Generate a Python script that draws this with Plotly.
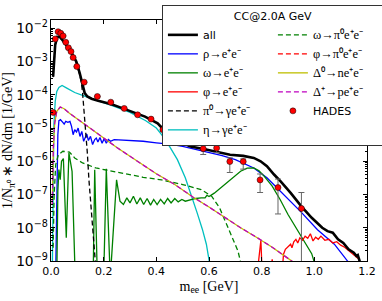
import plotly.graph_objects as go

# ---------------- data ----------------
all_m = [0.008, 0.016, 0.024, 0.033, 0.046, 0.058, 0.071, 0.084, 0.096, 0.109, 0.115, 0.122, 0.128,
         0.138, 0.154, 0.179, 0.204, 0.230, 0.255, 0.281, 0.306, 0.332, 0.357, 0.382, 0.405, 0.428,
         0.454, 0.479, 0.505, 0.530, 0.580, 0.630, 0.680, 0.730, 0.770, 0.796, 0.820, 0.847, 0.872,
         0.910, 0.950, 0.990, 1.012, 1.030, 1.050, 1.070, 1.090, 1.110, 1.130, 1.150, 1.160, 1.165,
         1.172, 1.178]
all_v = [3.5e-4, 3.2e-3, 5.6e-3, 5.6e-3, 4.2e-3, 3.2e-3, 2.2e-3, 1.5e-3, 1.0e-3, 4.5e-4, 2.8e-4, 1.8e-4,
         1.12e-4, 8.9e-5, 7.6e-5, 6.6e-5, 6.0e-5, 5.2e-5, 4.4e-5, 3.7e-5, 3.2e-5, 2.6e-5, 2.2e-5, 1.74e-5,
         1.38e-5, 8.9e-6, 5.6e-6, 4.2e-6, 3.4e-6, 2.8e-6, 2.34e-6, 1.9e-6, 1.58e-6, 1.45e-6, 1.26e-6,
         1.0e-6, 7.1e-7, 4.0e-7, 2.5e-7, 1.12e-7, 4.5e-8, 2.0e-8, 1.32e-8, 1.0e-8, 7.9e-9, 7.1e-9,
         4.5e-9, 3.5e-9, 2.24e-9, 1.78e-9, 1.41e-9, 1.5e-9, 1.0e-9, 2.5e-10]

rho_m = [0.018, 0.022, 0.026, 0.030, 0.036, 0.044, 0.050, 0.056, 0.064, 0.072, 0.078, 0.084, 0.090,
         0.097, 0.103, 0.110, 0.117, 0.124, 0.130, 0.136, 0.142, 0.150, 0.158, 0.166, 0.172, 0.178,
         0.186, 0.194, 0.202, 0.210, 0.218, 0.226, 0.240, 0.270, 0.300, 0.350, 0.400, 0.450, 0.500,
         0.550, 0.600, 0.650, 0.700, 0.740, 0.770, 0.820, 0.885, 0.950, 1.012, 1.076, 1.126, 1.150]
rho_v = [5e-10, 3.2e-7, 6.3e-6, 1.66e-5, 1.78e-5, 1.51e-5, 1.32e-5, 1.58e-5, 1.48e-5, 1.58e-5, 1.12e-5,
         6.3e-6, 8.9e-6, 7.6e-6, 1.0e-5, 5.6e-6, 7.9e-6, 4.0e-6, 5.0e-6, 6.6e-6, 4.2e-6, 5.6e-6, 3.2e-6,
         4.5e-6, 5.0e-6, 3.8e-6, 5.2e-6, 3.5e-6, 4.8e-6, 3.5e-6, 4.5e-6, 4.0e-6, 4.5e-6, 4.4e-6, 4.3e-6,
         4.0e-6, 3.6e-6, 3.3e-6, 2.8e-6, 2.24e-6, 1.78e-6, 1.48e-6, 1.12e-6, 8.3e-7, 6.3e-7, 3.2e-7,
         1.0e-7, 2.95e-8, 8.7e-9, 3.2e-9, 1.0e-9, 5e-10]

omega_m = [0.022, 0.026, 0.030, 0.035, 0.040, 0.047, 0.058, 0.068, 0.080, 0.092, 0.160, 0.166, 0.176,
           0.200, 0.210, 0.225, 0.249, 0.262, 0.275, 0.288, 0.300, 0.313, 0.326, 0.339, 0.352, 0.365,
           0.378, 0.390, 0.403, 0.416, 0.430, 0.443, 0.456, 0.470, 0.483, 0.497, 0.510, 0.530, 0.550,
           0.570, 0.585, 0.592, 0.600, 0.620, 0.640, 0.660, 0.680, 0.700, 0.720, 0.745, 0.770, 0.790,
           0.810, 0.840, 0.870, 0.900, 0.930, 0.960, 0.990, 1.010]
omega_v = [3e-10, 1.26e-7, 5.6e-7, 2.8e-7, 1.0e-6, 1.2e-6, 5e-9, 1.78e-6, 5e-7, 3e-10, 3e-10, 5.6e-7,
           3e-10, 3e-10, 5.9e-7, 3e-10, 2.75e-7, 6.3e-8, 5.0e-8, 7.9e-8, 5.6e-8, 8.9e-8, 5.2e-8, 7.9e-8,
           5.0e-8, 7.6e-8, 4.8e-8, 7.1e-8, 5.0e-8, 7.1e-8, 5.2e-8, 7.6e-8, 5.6e-8, 7.6e-8, 6.0e-8, 7.1e-8,
           6.3e-8, 7.1e-8, 7.6e-8, 7.9e-8, 7.9e-8, 9.5e-8, 8.7e-8, 1.1e-7, 1.48e-7, 2.1e-7, 2.8e-7, 3.8e-7,
           5.0e-7, 6.2e-7, 6.3e-7, 5.2e-7, 3.5e-7, 1.78e-7, 7.1e-8, 2.5e-8, 1.0e-8, 4.0e-9, 1.66e-9, 5e-10]

phi_m = [0.780, 0.790, 0.797, 0.803, 0.830, 0.840, 0.848, 0.875, 0.883, 0.890, 0.900, 0.910, 0.915,
         0.922, 0.930, 0.937, 0.945, 0.955, 0.965, 0.975, 0.985, 0.995, 1.005, 1.015, 1.025, 1.040,
         1.055, 1.070, 1.085, 1.100, 1.115, 1.130, 1.145, 1.160, 1.170, 1.180]
phi_v = [2.5e-10, 1.6e-9, 4.2e-9, 2.5e-10, 2.5e-10, 1.12e-9, 2.5e-10, 2.5e-10, 1.6e-9, 2.24e-9, 2.6e-9,
         3.2e-9, 2.5e-9, 3.8e-9, 4.5e-9, 3.5e-9, 5.0e-9, 4.2e-9, 5.6e-9, 4.8e-9, 6.6e-9, 4.0e-9, 5.2e-9,
         4.5e-9, 5.6e-9, 4.2e-9, 4.5e-9, 3.5e-9, 3.8e-9, 3.0e-9, 2.6e-9, 2.1e-9, 1.66e-9, 1.32e-9,
         1.12e-9, 3.2e-10]

pi0_m = [0.008, 0.016, 0.024, 0.033, 0.046, 0.058, 0.071, 0.084, 0.096, 0.109, 0.115, 0.120, 0.125,
         0.129, 0.138, 0.144, 0.151, 0.159, 0.166, 0.172]
pi0_v = [3.4e-4, 3.0e-3, 5.4e-3, 5.4e-3, 4.0e-3, 3.0e-3, 2.14e-3, 1.41e-3, 9.3e-4, 4.0e-4, 2.5e-4,
         1.12e-4, 4.0e-5, 1.0e-5, 1.78e-6, 2.8e-7, 4.4e-8, 8.7e-9, 1.74e-9, 4.0e-10]

eta_m = [0.005, 0.008, 0.011, 0.016, 0.022, 0.030, 0.042, 0.060, 0.090, 0.130, 0.180, 0.240, 0.300,
         0.360, 0.400, 0.420, 0.450, 0.480, 0.510, 0.535, 0.555, 0.575, 0.590, 0.605]
eta_v = [5e-10, 3.2e-6, 1.26e-5, 6.3e-5, 1.26e-4, 1.66e-4, 1.9e-4, 1.58e-4, 1.17e-4, 8.9e-5, 6.6e-5,
         4.5e-5, 2.95e-5, 1.66e-5, 1.0e-5, 6.3e-6, 2.8e-6, 1.12e-6, 3.2e-7, 8.9e-8, 2.8e-8, 8.9e-9,
         3.2e-9, 6.3e-10]

omega_dal_m = [0.008, 0.012, 0.018, 0.028, 0.045, 0.070, 0.090, 0.120, 0.170, 0.250, 0.350, 0.420,
               0.500, 0.570, 0.610, 0.640, 0.665, 0.690, 0.710, 0.725]
omega_dal_v = [2.5e-9, 1.0e-7, 7.9e-7, 1.58e-6, 2.0e-6, 1.9e-6, 1.26e-6, 8.9e-7, 6.3e-7, 4.7e-7, 3.3e-7,
               2.75e-7, 2.0e-7, 1.41e-7, 8.9e-8, 4.0e-8, 1.41e-8, 5.0e-9, 2.0e-9, 6.3e-10]

phi_dal_m = [0.30, 0.60, 0.90]
phi_dal_v = [1e-11, 1e-11, 1e-11]

delta_m = [0.005, 0.009, 0.014, 0.022, 0.035, 0.050, 0.070, 0.090, 0.120, 0.160, 0.200, 0.250, 0.300,
           0.340, 0.400, 0.470, 0.540, 0.600, 0.660, 0.720, 0.780, 0.840, 0.900, 0.950]
delta0_v = [5e-8, 2.5e-6, 1.41e-5, 3.2e-5, 4.3e-5, 3.8e-5, 2.8e-5, 2.14e-5, 1.41e-5, 8.5e-6, 5.0e-6,
            2.6e-6, 1.41e-6, 8.5e-7, 4.2e-7, 2.0e-7, 8.3e-8, 4.2e-8, 2.0e-8, 1.0e-8, 5.2e-9, 2.6e-9,
            1.2e-9, 6.3e-10]
deltap_v = [5e-8, 2.5e-6, 1.41e-5, 3.2e-5, 4.3e-5, 3.8e-5, 2.8e-5, 2.14e-5, 1.41e-5, 8.5e-6, 5.0e-6,
            2.6e-6, 1.41e-6, 8.5e-7, 4.2e-7, 2.0e-7, 8.3e-8, 4.2e-8, 2.0e-8, 1.0e-8, 5.2e-9, 2.6e-9,
            1.2e-9, 6.3e-10]

hades_m = [0.008, 0.016, 0.027, 0.037, 0.046, 0.056, 0.066, 0.076, 0.084, 0.098, 0.126, 0.176, 0.227,
           0.278, 0.329, 0.380, 0.425, 0.476, 0.527, 0.578, 0.629, 0.679, 0.730, 0.794, 0.862, 0.951]
hades_v = [2.95e-5, 4.8e-3, 7.9e-3, 7.1e-3, 5.9e-3, 3.8e-3, 2.6e-3, 2.0e-3, 1.32e-3, 7.1e-4, 2.4e-4,
           8.9e-5, 6.0e-5, 3.9e-5, 2.5e-5, 1.86e-5, 8.9e-6, 4.7e-6, 4.2e-6, 2.4e-6, 2.5e-6, 9.8e-7,
           9.8e-7, 2.75e-7, 1.62e-7, 3.8e-8]
hades_err_up = [1e-6, 1e-4, 1e-4, 1e-4, 1e-4, 8e-5, 5e-5, 4e-5, 3e-5, 1.5e-5, 5e-6, 2e-6, 1.5e-6,
                1e-6, 6e-7, 5e-7, 6e-7, 1.1e-6, 1.0e-6, 0.9e-6, 0.66e-6, 0.29e-6, 0.2e-6, 1.4e-7,
                1.3e-7, 7.7e-8]
hades_err_dn = [1e-6, 1e-4, 1e-4, 1e-4, 1e-4, 8e-5, 5e-5, 4e-5, 3e-5, 1.5e-5, 5e-6, 2e-6, 1.5e-6,
                1e-6, 6e-7, 5e-7, 6e-7, 1.0e-6, 0.9e-6, 0.8e-6, 0.66e-6, 0.52e-6, 0.4e-6, 1.6e-7,
                1.36e-7, 3.79e-8]

x_ticks = [0.0, 0.2, 0.4, 0.6, 0.8, 1.0, 1.2]

SERIF = "Liberation Serif"
SANS = "DejaVu Sans"


def math(label):
    return '<span style="font-family:%s;font-size:12.5px">%s</span>' % (SERIF, label)


fig = go.Figure()


def line(x, y, name, color, rank, width=1.3, dash="solid"):
    fig.add_trace(go.Scatter(x=x, y=y, mode="lines", name=name, legendrank=rank,
                             line=dict(color=color, width=width, dash=dash)))


DASH = "5px,3px"
line(eta_m, eta_v, math("η→γe⁺e⁻"), "#00bfbf", 11)
line(rho_m, rho_v, math("ρ→e⁺e⁻"), "#0000ff", 3)
line(omega_m, omega_v, math("ω→e⁺e⁻"), "#008000", 5)
line(phi_m, phi_v, math("φ→e⁺e⁻"), "#ff0000", 7)
line(omega_dal_m, omega_dal_v, math("ω→π⁰e⁺e⁻"), "#008000", 2, dash=DASH)
line(phi_dal_m, phi_dal_v, math("φ→π⁰e⁺e⁻"), "#ff0000", 4, dash=DASH)
line(delta_m, delta0_v, math("Δ⁰→ne⁺e⁻"), "#bfbf00", 6)
line(delta_m, deltap_v, math("Δ⁺→pe⁺e⁻"), "#bf00bf", 8, dash=DASH)
line(pi0_m, pi0_v, math("π⁰→γe⁺e⁻"), "#000000", 9, dash=DASH)
line(all_m, all_v, "all", "#000000", 1, width=2.6)

fig.add_trace(go.Scatter(
    x=hades_m, y=hades_v, mode="markers", name="HADES", legendrank=10,
    marker=dict(color="#ff0000", size=6, line=dict(color="#000000", width=0.5)),
    error_y=dict(type="data", symmetric=False, array=hades_err_up, arrayminus=hades_err_dn,
                 color="#666666", thickness=1, width=3)))

axis_common = dict(showline=True, linecolor="black", linewidth=1, mirror="allticks",
                   ticks="inside", ticklen=4, tickcolor="black", showgrid=False, zeroline=False,
                   tickfont=dict(family=SANS, size=11, color="black"))

fig.update_xaxes(range=[0, 1.2], tickvals=x_ticks, tickformat=".1f",
                 title=dict(text="m<sub>ee</sub> [GeV]", font=dict(family=SERIF, size=14, color="black"),
                            standoff=3),
                 **axis_common)
fig.update_yaxes(type="log", range=[-9, -1.75], dtick=1, exponentformat="power",
                 minor=dict(ticks="inside", ticklen=2, tickcolor="black", showgrid=False),
                 title=dict(text="1/N<sub>π⁰</sub> ∗ dN/dm [1/GeV]",
                            font=dict(family=SERIF, size=14, color="black"), standoff=4),
                 **axis_common)

fig.update_layout(
    width=382, height=301,
    margin=dict(l=51, r=15, t=20, b=40, autoexpand=False),
    paper_bgcolor="white", plot_bgcolor="white",
    showlegend=True,
    legend=dict(orientation="h", x=0.351, y=1.062, xanchor="left", yanchor="top",
                entrywidth=65, entrywidthmode="pixels",
                bgcolor="white", bordercolor="#333333", borderwidth=1,
                font=dict(family=SANS, size=11, color="black"),
                title=dict(text="CC@2.0A GeV", side="top center",
                           font=dict(family=SANS, size=11, color="black"))),
)

fig.write_html("out.html", config={"displayModeBar": False},
               post_script="document.body.style.margin='0';document.body.style.overflow='hidden';")
